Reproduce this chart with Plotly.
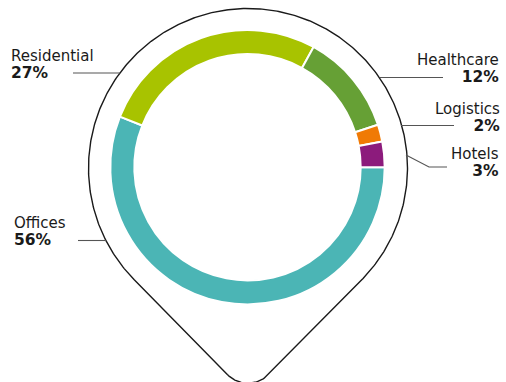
import numpy as np
import plotly.graph_objects as go

# Portfolio split by sector
sectors = ["Offices", "Residential", "Healthcare", "Logistics", "Hotels"]
shares = [56, 27, 12, 2, 3]
colors = ["#4BB5B5", "#A8C300", "#66A035", "#F07A05", "#8C1B7C"]

W, H = 506, 382
CX, CY = 247.5, 167.2      # ring centre (px)
R_OUT = 137.2              # ring outer radius (px)
HOLE = 0.825

fig = go.Figure()

# Donut ring
fig.add_trace(go.Pie(
    values=shares, labels=sectors, sort=False, direction="clockwise",
    rotation=90, hole=HOLE, textinfo="none", hoverinfo="label+percent",
    marker=dict(colors=colors, line=dict(color="white", width=2)),
    domain=dict(x=[(CX - R_OUT) / W, (CX + R_OUT) / W],
                y=[1 - (CY + R_OUT) / H, 1 - (CY - R_OUT) / H]),
    showlegend=False,
))

# Map-pin outline: circle plus two tangent lines meeting in a rounded tip
pc_x, pc_y, pr = 248.0, 168.0, 159.5
beta = np.radians(45.5)
rf = 29.0
apex_y = pc_y + pr / np.cos(beta)
fc_y = apex_y - rf / np.cos(beta)
# angles in screen coords (y down), 0 = +x
a_left = np.pi / 2 + beta
a_right = np.pi / 2 - beta
arc = np.linspace(a_left, a_right + 2 * np.pi, 400)
ox = list(pc_x + pr * np.cos(arc))
oy = list(pc_y + pr * np.sin(arc))
tip = np.linspace(np.pi / 2 - beta, np.pi / 2 + beta, 60)
ox += list(pc_x + rf * np.cos(tip)) + [ox[0]]
oy += list(fc_y + rf * np.sin(tip)) + [oy[0]]
fig.add_trace(go.Scatter(x=ox, y=oy, mode="lines", hoverinfo="skip",
                         line=dict(color="#1a1a1a", width=1.4), showlegend=False))

# Leader lines from labels to the pin
leaders = [
    ([73, 120], [73, 73]),
    ([78, 107], [240.5, 240.5]),
    ([380, 443], [77.5, 77.5]),
    ([401, 454], [125.5, 125.5]),
    ([406, 429, 447], [155, 167, 167]),
]
for lx, ly in leaders:
    fig.add_trace(go.Scatter(x=lx, y=ly, mode="lines", hoverinfo="skip",
                             line=dict(color="#555555", width=1.1), showlegend=False))

# Label placement: (x, anchor, block centre y)
label_pos = {
    "Residential": (8.5, "left", 64.0),
    "Offices": (11.5, "left", 231.5),
    "Healthcare": (501, "right", 68.5),
    "Logistics": (502, "right", 117.5),
    "Hotels": (501, "right", 162.5),
}
FONT = "DejaVu Sans"
NAME = "<span style='font-size:15px'>{}</span>"
PCT = "<span style='font-size:15.5px'><b>{}%</b></span>"
for name, val in zip(sectors, shares):
    x, anc, yc = label_pos[name]
    fig.add_annotation(
        x=x, y=yc, xref="x", yref="y", showarrow=False,
        text=NAME.format(name) + "<br>" + PCT.format(val),
        xanchor=anc, yanchor="middle", align=anc,
        font=dict(family=FONT, size=13.3, color="#1a1a1a"))

fig.update_layout(
    width=W, height=H, margin=dict(l=0, r=0, t=0, b=0),
    paper_bgcolor="white", plot_bgcolor="rgba(0,0,0,0)",
    xaxis=dict(range=[0, W], visible=False, domain=[0, 1], fixedrange=True),
    yaxis=dict(range=[H, 0], visible=False, domain=[0, 1], fixedrange=True),
)

fig.write_html("out.html")
